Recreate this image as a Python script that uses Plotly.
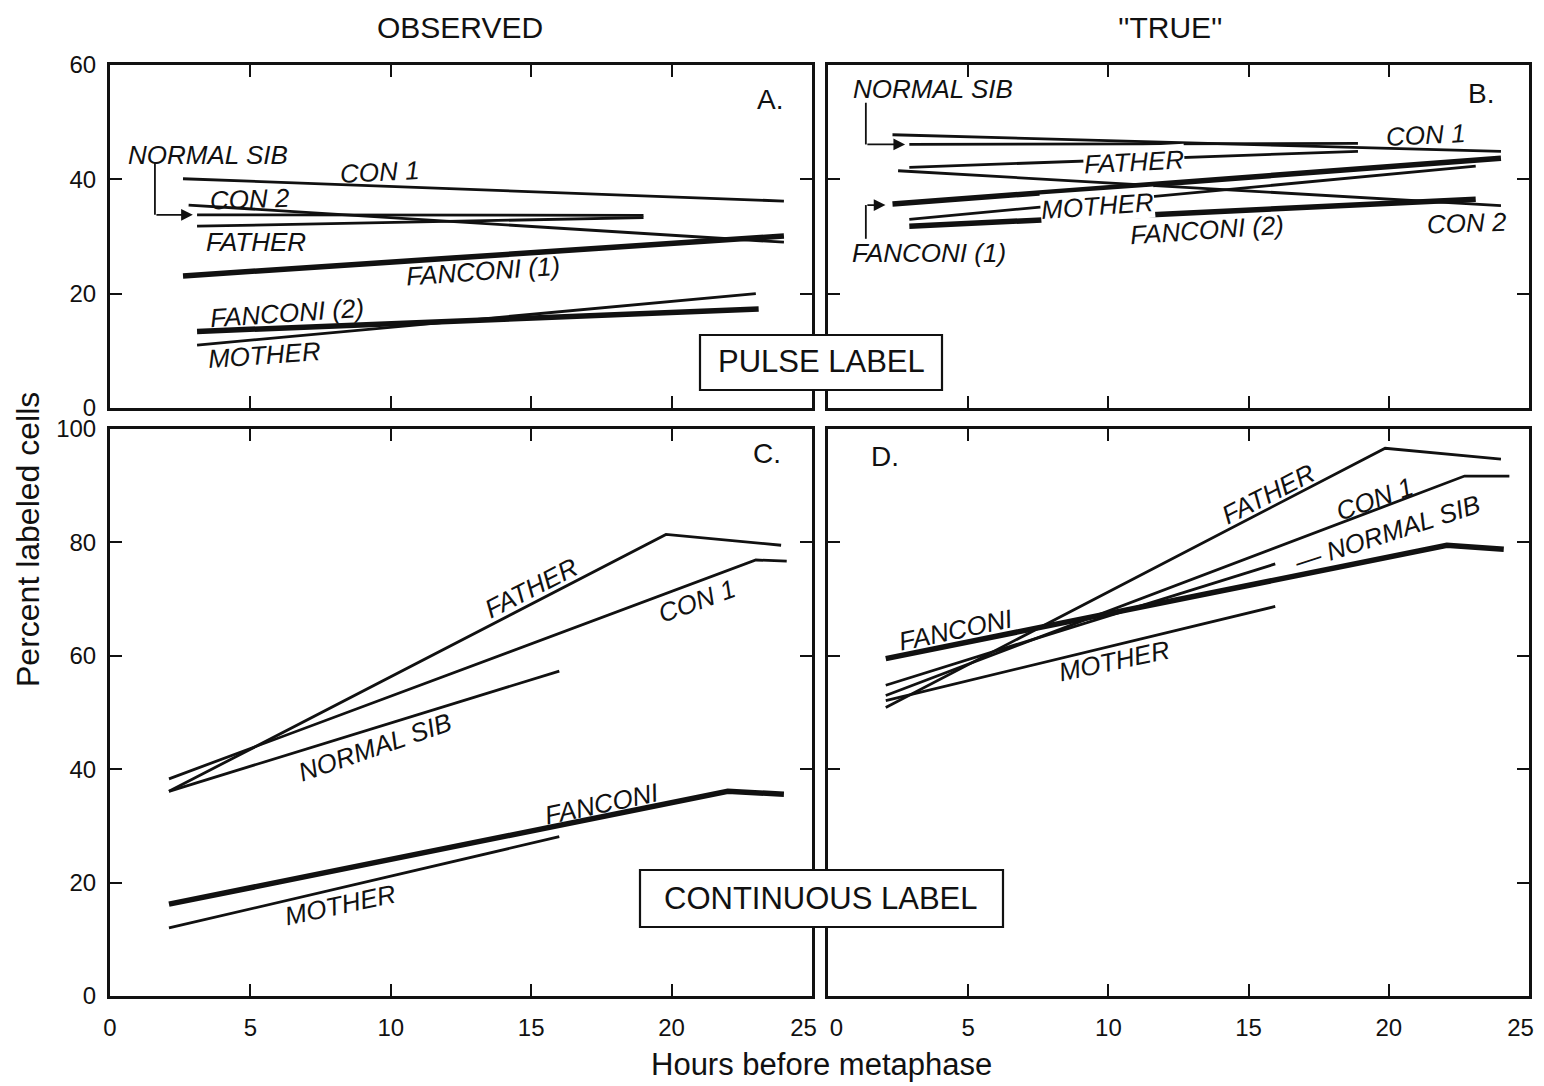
import plotly.graph_objects as go

# ---------------- data ----------------
X_TICKS = [0, 5, 10, 15, 20, 25]
X_TICKTEXT_LEFT = ["0", "5", "10", "15", "20", "25\u2002\u2009"]
X_TICKTEXT_RIGHT = ["\u2009\u20020", "5", "10", "15", "20", "25\u2002\u2009"]
Y_TICKS_PULSE = [0, 20, 40, 60]
Y_TICKS_CONT = [0, 20, 40, 60, 80, 100]

# Panel A : pulse label, observed
A_CON1_X, A_CON1_Y = [2.6, 24.0], [40.1, 36.2]
A_CON2_X, A_CON2_Y = [2.8, 24.0], [35.5, 29.0]
A_NSIB_X, A_NSIB_Y = [3.1, 19.0], [33.8, 33.7]
A_FATH_X, A_FATH_Y = [3.1, 19.0], [31.8, 33.3]
A_FAN1_X, A_FAN1_Y = [2.6, 24.0], [23.1, 30.1]
A_FAN2_X, A_FAN2_Y = [3.1, 23.1], [13.4, 17.3]
A_MOTH_X, A_MOTH_Y = [3.1, 23.0], [11.0, 20.0]

# Panel B : pulse label, "true"
B_CON1_X, B_CON1_Y = [2.3, 24.0], [47.8, 44.9]
B_NSIB_X, B_NSIB_Y = [2.9, 18.9], [46.1, 46.3]
B_FATH_X, B_FATH_Y = [2.9, 18.9], [42.1, 44.9]
B_CON2_X, B_CON2_Y = [2.5, 24.0], [41.5, 35.4]
B_FAN1_X, B_FAN1_Y = [2.3, 24.0], [35.7, 43.7]
B_MOTH_X, B_MOTH_Y = [2.9, 23.1], [33.0, 42.3]
B_FAN2_X, B_FAN2_Y = [2.9, 23.1], [31.8, 36.5]

# Panel C : continuous label, observed
C_FATH_X, C_FATH_Y = [2.1, 19.8, 23.9], [36.1, 81.4, 79.5]
C_CON1_X, C_CON1_Y = [2.1, 23.0, 24.1], [38.3, 76.9, 76.7]
C_NSIB_X, C_NSIB_Y = [2.1, 16.0], [36.1, 57.3]
C_FANC_X, C_FANC_Y = [2.1, 22.0, 24.0], [16.2, 36.1, 35.6]
C_MOTH_X, C_MOTH_Y = [2.1, 16.0], [12.0, 28.1]

# Panel D : continuous label, "true"
D_FATH_X, D_FATH_Y = [2.06, 19.87, 24.0], [50.9, 96.6, 94.7]
D_CON1_X, D_CON1_Y = [2.06, 22.7, 24.3], [53.0, 91.7, 91.7]
D_NSIB_X, D_NSIB_Y = [2.06, 15.95], [54.8, 76.2]
D_FANC_X, D_FANC_Y = [2.06, 22.07, 24.1], [59.5, 79.5, 78.8]
D_MOTH_X, D_MOTH_Y = [2.06, 15.95], [52.1, 68.7]

# Leader arrows (elbow: vertical part, then arrow to the line)
A_ARROW_X, A_ARROW_Y = [1.6, 1.6, 2.95], [43.0, 33.8, 33.8]
B_ARROW1_X, B_ARROW1_Y = [1.35, 1.35, 2.75], [53.4, 46.1, 46.1]
B_ARROW2_X, B_ARROW2_Y = [1.35, 1.35, 2.05], [29.6, 35.5, 35.5]

THIN, THICK = 2.8, 5.5
BLACK = "#111111"
FONT = "Liberation Sans"

fig = go.Figure()

panels = {
    "A": ("x", "y", [
        (A_CON1_X, A_CON1_Y, THIN), (A_CON2_X, A_CON2_Y, THIN),
        (A_NSIB_X, A_NSIB_Y, THIN), (A_FATH_X, A_FATH_Y, THIN),
        (A_FAN1_X, A_FAN1_Y, THICK), (A_FAN2_X, A_FAN2_Y, THICK),
        (A_MOTH_X, A_MOTH_Y, THIN)]),
    "B": ("x2", "y2", [
        (B_CON1_X, B_CON1_Y, THIN), (B_NSIB_X, B_NSIB_Y, THIN),
        (B_FATH_X, B_FATH_Y, THIN), (B_CON2_X, B_CON2_Y, THIN),
        (B_FAN1_X, B_FAN1_Y, THICK), (B_MOTH_X, B_MOTH_Y, THIN),
        (B_FAN2_X, B_FAN2_Y, THICK)]),
    "C": ("x3", "y3", [
        (C_FATH_X, C_FATH_Y, THIN), (C_CON1_X, C_CON1_Y, THIN),
        (C_NSIB_X, C_NSIB_Y, THIN), (C_FANC_X, C_FANC_Y, THICK),
        (C_MOTH_X, C_MOTH_Y, THIN)]),
    "D": ("x4", "y4", [
        (D_FATH_X, D_FATH_Y, THIN), (D_CON1_X, D_CON1_Y, THIN),
        (D_NSIB_X, D_NSIB_Y, THIN), (D_FANC_X, D_FANC_Y, THICK),
        (D_MOTH_X, D_MOTH_Y, THIN)]),
}

for key, (xa, ya, series) in panels.items():
    for xs, ys, w in series:
        fig.add_trace(go.Scatter(x=xs, y=ys, mode="lines", xaxis=xa, yaxis=ya,
                                 line=dict(color=BLACK, width=w),
                                 showlegend=False, hoverinfo="skip"))

ARROWS = [(A_ARROW_X, A_ARROW_Y, "x", "y"),
          (B_ARROW1_X, B_ARROW1_Y, "x2", "y2"),
          (B_ARROW2_X, B_ARROW2_Y, "x2", "y2")]

# elbow parts of the leader arrows
for xs, ys, xa, ya in ARROWS:
    fig.add_trace(go.Scatter(x=xs[:2], y=ys[:2], mode="lines", xaxis=xa, yaxis=ya,
                             line=dict(color=BLACK, width=1.8),
                             showlegend=False, hoverinfo="skip"))

annotations = []
for xs, ys, xa, ya in ARROWS:
    annotations.append(dict(x=xs[2], y=ys[2], ax=xs[1], ay=ys[1], xref=xa, yref=ya,
                            axref=xa, ayref=ya, text="", showarrow=True,
                            arrowhead=2, arrowsize=1.3, arrowwidth=1.8,
                            arrowcolor=BLACK))

LABEL_SIZE = 26


def lab(text, x, y, xa, ya, angle=0, bg=None, italic=True, size=LABEL_SIZE):
    d = dict(x=x, y=y, xref=xa, yref=ya, text=f"<i>{text}</i>" if italic else text,
             showarrow=False, textangle=angle, xanchor="center", yanchor="middle",
             font=dict(family=FONT, size=size, color=BLACK))
    if bg:
        d["bgcolor"] = bg
        d["borderpad"] = 0
    annotations.append(d)


# Panel A labels
lab("NORMAL SIB", 3.49, 44.3, "x", "y")
lab("CON 1", 9.6, 41.3, "x", "y", -3)
lab("CON 2", 5.0, 36.5, "x", "y", -2)
lab("FATHER", 5.2, 29.0, "x", "y")
lab("FANCONI (1)", 13.3, 24.0, "x", "y", -4)
lab("FANCONI (2)", 6.3, 16.7, "x", "y", -4)
lab("MOTHER", 5.5, 9.2, "x", "y", -4)
lab("A.", 23.5, 53.9, "x", "y", italic=False, size=28)

# Panel B labels
lab("NORMAL SIB", 3.75, 55.8, "x2", "y2")
lab("CON 1", 21.3, 47.8, "x2", "y2", -3)
lab("FATHER", 10.9, 43.1, "x2", "y2", -3, bg="white")
lab("MOTHER", 9.6, 35.4, "x2", "y2", -4, bg="white")
lab("FANCONI (2)", 13.5, 31.1, "x2", "y2", -4)
lab("CON 2", 22.8, 32.3, "x2", "y2", -2)
lab("FANCONI (1)", 3.6, 27.1, "x2", "y2")
lab("B.", 23.3, 55.1, "x2", "y2", italic=False, size=28)

# Panel C labels
lab("FATHER", 15.0, 72.0, "x3", "y3", -27)
lab("CON 1", 20.9, 69.7, "x3", "y3", -20)
lab("NORMAL SIB", 9.45, 43.9, "x3", "y3", -19)
lab("FANCONI", 17.5, 33.8, "x3", "y3", -12)
lab("MOTHER", 8.2, 16.0, "x3", "y3", -12)
lab("C.", 23.4, 95.6, "x3", "y3", italic=False, size=28)

# Panel D labels
lab("FATHER", 15.7, 88.6, "x4", "y4", -27)
lab("CON 1", 19.5, 87.6, "x4", "y4", -20)
lab("\u2014 NORMAL SIB", 19.95, 81.6, "x4", "y4", -18)
lab("FANCONI", 4.56, 64.5, "x4", "y4", -12)
lab("MOTHER", 10.2, 59.0, "x4", "y4", -12)
lab("D.", 2.05, 95.1, "x4", "y4", italic=False, size=28)

# The page body has an 8px margin; size the figure so that its
# pixels land where the reference's do inside the 1544x1086 window.
OFF = 8
W, H = 1544 - OFF, 1086 - OFF


def px(v):
    return (v - OFF) / W


def py(v):
    return (H - (v - OFF)) / H


def note(text, x, y, size, angle=0):
    return dict(x=px(x), y=py(y), xref="paper", yref="paper", text=text, showarrow=False,
                xanchor="center", yanchor="middle", textangle=angle,
                font=dict(family=FONT, size=size, color=BLACK))


# Titles and boxed notes
annotations += [
    note("OBSERVED", 460, 28, 30),
    note("''TRUE''", 1170, 28, 30),
    note("Hours before metaphase", 821, 1064, 31),
    note("Percent labeled cells", 28, 540, 32, -90),
    note("PULSE LABEL", 821, 362, 31),
    note("CONTINUOUS LABEL", 821, 898, 31),
]

shapes = [
    dict(type="rect", xref="paper", yref="paper", x0=px(700), x1=px(942), y0=py(390), y1=py(335),
         line=dict(color=BLACK, width=2.2), fillcolor="white", layer="above"),
    dict(type="rect", xref="paper", yref="paper", x0=px(640), x1=px(1003), y0=py(927), y1=py(870),
         line=dict(color=BLACK, width=2.2), fillcolor="white", layer="above"),
]

LEFT = [px(110), px(812)]
RIGHT = [px(828), px(1529)]
TOP = [py(408), py(65)]
BOTTOM = [py(996), py(429)]

tickfont = dict(family=FONT, size=24, color=BLACK)


def xax(domain, anchor, show, ticktext):
    return dict(domain=domain, anchor=anchor, range=[0, 25], tickvals=X_TICKS,
                ticktext=ticktext, showticklabels=show, ticks="inside", ticklen=12,
                tickwidth=2, tickcolor=BLACK, showline=True, linewidth=3, linecolor=BLACK,
                mirror="ticks", showgrid=False, zeroline=False, tickfont=tickfont,
                fixedrange=True, automargin=False, ticklabelstandoff=8,
                ticklabeloverflow="allow")


def yax(domain, anchor, show, rng, tv):
    return dict(domain=domain, anchor=anchor, range=rng, tickvals=tv,
                showticklabels=show, ticks="inside", ticklen=12,
                tickwidth=2, tickcolor=BLACK, showline=True, linewidth=3, linecolor=BLACK,
                mirror="ticks", showgrid=False, zeroline=False, tickfont=tickfont,
                fixedrange=True, automargin=False, ticklabelstandoff=6,
                ticklabeloverflow="allow")


fig.update_layout(
    width=W, height=H, autosize=False,
    margin=dict(l=0, r=0, t=0, b=0, pad=0),
    paper_bgcolor="white", plot_bgcolor="white",
    xaxis=xax(LEFT, "y", False, X_TICKTEXT_LEFT),
    yaxis=yax(TOP, "x", True, [0, 60], Y_TICKS_PULSE),
    xaxis2=xax(RIGHT, "y2", False, X_TICKTEXT_RIGHT),
    yaxis2=yax(TOP, "x2", False, [0, 60], Y_TICKS_PULSE),
    xaxis3=xax(LEFT, "y3", True, X_TICKTEXT_LEFT),
    yaxis3=yax(BOTTOM, "x3", True, [0, 100], Y_TICKS_CONT),
    xaxis4=xax(RIGHT, "y4", True, X_TICKTEXT_RIGHT),
    yaxis4=yax(BOTTOM, "x4", False, [0, 100], Y_TICKS_CONT),
    annotations=annotations,
    shapes=shapes,
)

fig.write_html("out.html")
